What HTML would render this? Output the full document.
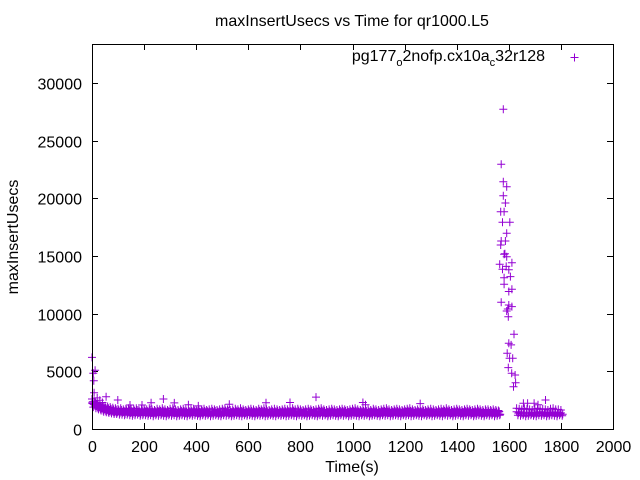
<!DOCTYPE html>
<html><head><meta charset="utf-8"><style>
body{margin:0;background:#fff;}
svg{display:block;font-family:"Liberation Sans",sans-serif;}
</style></head><body>
<svg id="chart" width="640" height="480" xmlns="http://www.w3.org/2000/svg">
<text x="352" y="26" font-size="16" text-anchor="middle">maxInsertUsecs vs Time for qr1000.L5</text>
<text transform="translate(18,237) rotate(-90)" font-size="16" text-anchor="middle">maxInsertUsecs</text>
<text x="352" y="472" font-size="16" text-anchor="middle">Time(s)</text>
<g id="axes"></g>
<g id="marks"></g>
<text x="545" y="61" font-size="16" text-anchor="end">pg177<tspan font-size="11" dy="5">o</tspan><tspan dy="-5">2nofp.cx10a</tspan><tspan font-size="11" dy="5">c</tspan><tspan dy="-5">32r128</tspan></text>
<path d="M570.5,57.5h8M574.5,53.5v8" stroke="#9400d3" stroke-width="1"/>
<rect x="92.5" y="44.5" width="521" height="385" fill="none" stroke="#000"/>
</svg>
<script>
const xTicks=[0,200,400,600,800,1000,1200,1400,1600,1800,2000];
const yTicks=[0,5000,10000,15000,20000,25000,30000];
const spikeT=[1579,1571,1579,1592,1579,1587,1569,1582,1576,1604,1592,1571,1587,1569,1582,1592,1612,1565,1576,1600,1582,1606,1582,1612,1600,1571,1600,1612,1592,1598,1620,1600,1609,1594,1603,1615,1598,1611,1624,1626,1618,1585,1590,1596];
const spikeV=[27720,22950,21440,21010,20230,19590,18840,18840,17920,17920,16970,16300,16300,15950,15150,14940,14420,14280,13850,13800,13120,13210,12550,12110,11920,10990,10750,10610,10230,9740,8210,7430,7290,6560,6130,6130,5320,4830,4680,4010,3670,15200,14100,10400];
const outT=[0,5,12,7,8,54,99,146,192,227,274,316,370,408,527,668,760,860,1040,1050,1260,1656,1672,1697,1712,1741,20,30,40];
const outV=[6210,4830,5090,4190,3150,2800,2510,2080,2080,2280,2600,2260,2100,2000,2140,2280,2300,2770,2300,2100,2200,2230,2230,2230,2100,2510,2700,2500,2300];
const seg1Start=0, seg2Start=1630, step=10;
const hi1=[2600,2400,2300,2200,2100,2000,1950,1900,1850,1800,1750,1800,1700,1750,1800,1700,1750,1800,1650,1700,
1750,1700,1800,1700,1650,1750,1700,1800,1700,1650,1750,1800,1700,1650,1700,1750,1700,1650,1700,1750,
1700,1650,1700,1750,1650,1700,1750,1700,1650,1700,1750,1800,1700,1650,1700,1750,1700,1800,1700,1650,
1700,1750,1700,1650,1750,1700,1800,1700,1650,1700,1750,1700,1650,1700,1750,1700,1650,1800,1700,1750,
1700,1650,1700,1750,1700,1650,1700,1750,1800,1700,1650,1700,1750,1700,1650,1700,1750,1700,1650,1700,
1750,1800,1700,1650,1750,1700,1700,1650,1750,1700,1650,1700,1750,1800,1700,1650,1700,1750,1700,1650,
1700,1750,1800,1700,1650,1700,1750,1700,1650,1700,1750,1700,1650,1700,1750,1700,1800,1700,1650,1700,
1750,1700,1650,1700,1750,1700,1650,1700,1750,1700,1650,1700,1700,1650,1700,1650,1600];
const lo1=[1900,1800,1700,1600,1500,1450,1400,1350,1300,1300,1250,1250,1200,1250,1200,1150,1200,1250,1150,1200,
1200,1150,1200,1100,1200,1150,1200,1150,1100,1200,1150,1200,1100,1150,1200,1150,1100,1200,1150,1200,
1150,1100,1200,1150,1200,1100,1150,1200,1150,1100,1200,1150,1200,1100,1150,1200,1150,1100,1200,1150,
1200,1150,1100,1200,1150,1200,1100,1150,1200,1150,1100,1200,1150,1200,1100,1150,1200,1150,1100,1200,
1150,1200,1100,1150,1200,1150,1100,1200,1150,1200,1100,1150,1200,1150,1100,1200,1150,1200,1100,1150,
1200,1150,1100,1200,1150,1200,1100,1150,1200,1150,1100,1200,1150,1200,1100,1150,1200,1150,1100,1200,
1150,1200,1100,1150,1200,1150,1100,1200,1150,1200,1100,1150,1200,1150,1100,1200,1150,1200,1100,1150,
1200,1150,1100,1200,1150,1200,1100,1150,1200,1150,1100,1200,1150,1200,1100,1150,1200];
const hi2=[1800,1750,1700,1800,1750,1700,1650,1750,1800,1700,1750,1700,1650,1750,1800,1700,1700,1650];
const lo2=[1200,1150,1200,1100,1150,1200,1150,1100,1200,1150,1200,1100,1150,1200,1150,1100,1200,1150];
const mid1=[2200,2000,1800,1700,1600,1550,1500,1500,1450,1450];
const X0=92,X1=613,Y0=429,Y1=44;
const xs=t=>X0+t/2000*(X1-X0);
const ys=v=>Y0-v/5000*57.67;
const NS="http://www.w3.org/2000/svg";
const axes=document.getElementById('axes'), marks=document.getElementById('marks');
function line(d,parent,name,col){const p=document.createElementNS(NS,'path');p.setAttribute('d',d);p.setAttribute('stroke',col);p.setAttribute('fill','none');


parent.appendChild(p);}
function txt(x,y,s,anchor,name){const t=document.createElementNS(NS,'text');t.setAttribute('x',x);t.setAttribute('y',y);t.setAttribute('font-size','16');t.setAttribute('text-anchor',anchor);t.textContent=s;


axes.appendChild(t);}
xTicks.forEach(v=>{const x=Math.round(xs(v))+0.5;line(`M${x},${Y0}v-6M${x},${Y1}v6`,axes,'x-tick','#000');txt(x,452,String(v),'middle','x-tick-label');});
yTicks.forEach(v=>{const y=Math.round(ys(v))+0.5;line(`M${X0},${y}h6M${X1},${y}h-6`,axes,'y-tick','#000');txt(82,y+6,String(v),'end','y-tick-label');});
let d='';
function pt(t,v){const x=xs(t),y=ys(v);d+=`M${(x-4).toFixed(1)},${y.toFixed(1)}h8M${x.toFixed(1)},${(y-4).toFixed(1)}v8`;}
hi1.forEach((v,i)=>pt(seg1Start+i*step,v));
lo1.forEach((v,i)=>pt(seg1Start+i*step+5,v));
lo1.forEach((v,i)=>pt(seg1Start+i*step,(v+hi1[i])/2));
lo1.forEach((v,i)=>pt(seg1Start+i*step+7,(v+hi1[i])/2-120));
lo1.forEach((v,i)=>pt(seg1Start+i*step+3,(v+hi1[i])/2+120));
mid1.forEach((v,i)=>pt(seg1Start+i*step+3,v));
hi2.forEach((v,i)=>pt(seg2Start+i*step,v));
lo2.forEach((v,i)=>pt(seg2Start+i*step+5,v));
lo2.forEach((v,i)=>pt(seg2Start+i*step,(v+hi2[i])/2));
lo2.forEach((v,i)=>pt(seg2Start+i*step+7,(v+hi2[i])/2-120));
spikeT.forEach((t,i)=>pt(t,spikeV[i]));
outT.forEach((t,i)=>pt(t,outV[i]));
line(d,marks,'data-points','#9400d3');
</script>
</body></html>
